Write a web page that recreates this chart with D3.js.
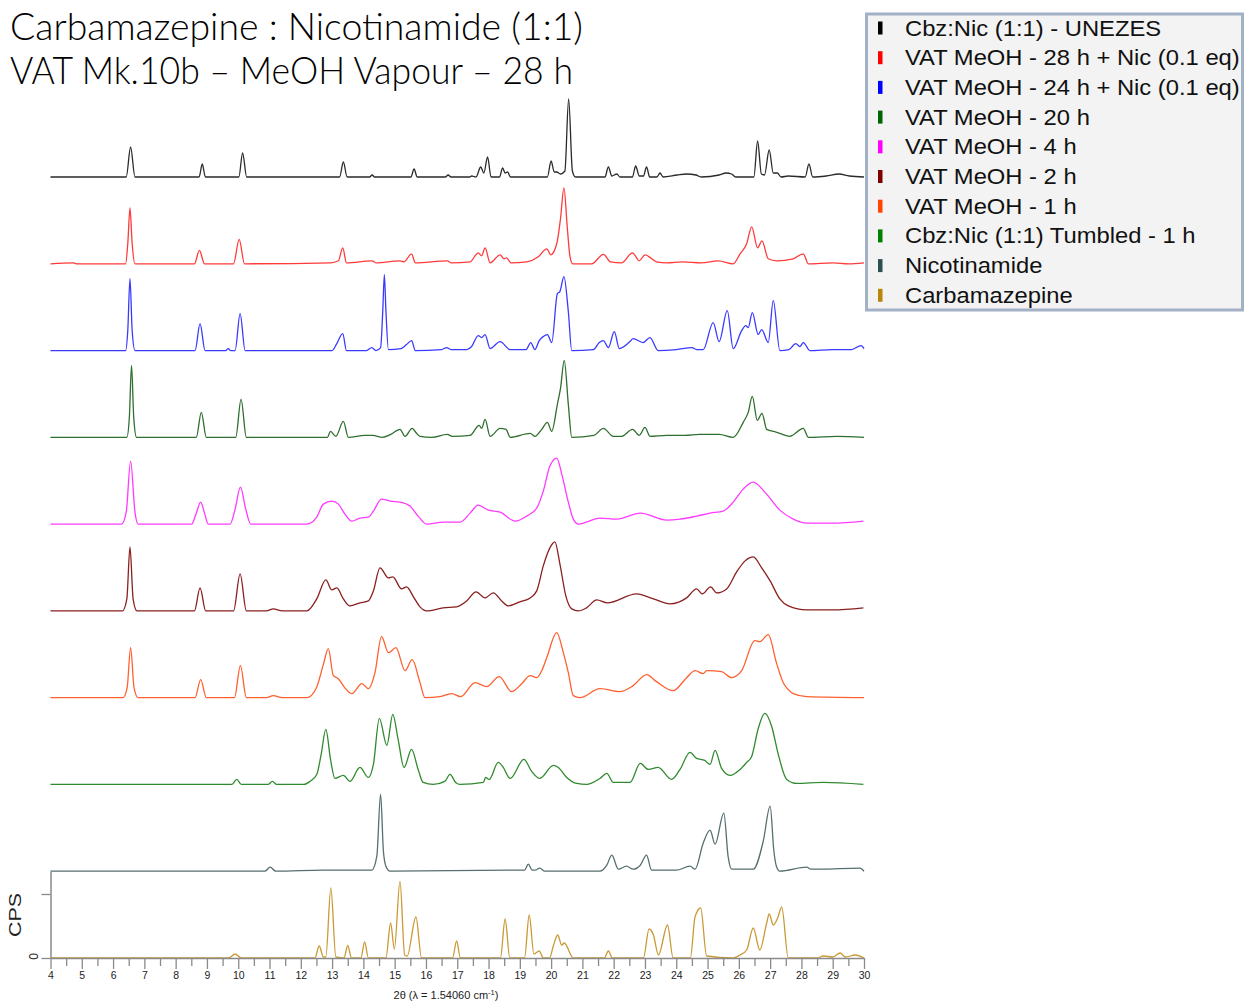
<!DOCTYPE html>
<html>
<head>
<meta charset="utf-8">
<script src="https://cdn.jsdelivr.net/npm/d3@7"></script>
<style>
  body { margin: 0; background: #ffffff; }
  svg { display: block; }
</style>
</head>
<body>
<svg id="chart" width="1244" height="1002"></svg>
<script>
// ---- Titles ----
const titleLines = ["Carbamazepine : Nicotinamide (1:1)", "VAT Mk.10b \u2013 MeOH Vapour \u2013 28 h"];

// ---- Series names (top to bottom) ----
const seriesNames = [
  "Cbz:Nic (1:1) - UNEZES",
  "VAT MeOH - 28 h + Nic (0.1 eq)",
  "VAT MeOH - 24 h + Nic (0.1 eq)",
  "VAT MeOH - 20 h",
  "VAT MeOH - 4 h",
  "VAT MeOH - 2 h",
  "VAT MeOH - 1 h",
  "Cbz:Nic (1:1) Tumbled - 1 h",
  "Nicotinamide",
  "Carbamazepine"
];

// ---- Diffractograms: [2theta (deg), intensity (a.u.)] ----
const unezes = [[4,0],[6.42,0],[6.56,30],[6.70,0],[8.75,0],[8.85,13],[8.95,0],[10.02,0],[10.14,24],[10.27,0],[13.24,0],[13.36,15],[13.48,0],[14.2,0],[14.28,2],[14.36,0],[15.52,0],[15.62,8],[15.72,0],[16.62,0],[16.71,2],[16.8,0],[17.4,0],[17.46,1],[17.6,0],[17.75,10],[17.85,4],[17.97,20],[18.08,0],[18.35,0],[18.45,9],[18.53,4],[18.61,5],[18.7,0],[19.88,0],[20.0,16],[20.1,5],[20.18,5],[20.3,3],[20.44,6],[20.56,78],[20.68,6],[20.78,0],[21.72,0],[21.83,10],[21.94,1],[22.1,3],[22.2,0],[22.6,0],[22.7,11],[22.82,1],[22.95,1],[23.05,10],[23.15,0],[23.38,0],[23.48,4],[23.58,0],[24.03,2],[24.33,3],[24.63,2],[24.8,0],[25.37,2],[25.59,4],[25.77,3],[25.9,0],[26.48,0],[26.6,36],[26.72,3],[26.82,2],[26.97,27],[27.1,4],[27.23,4],[27.35,0],[27.58,1],[28.12,0],[28.24,13],[28.36,0],[28.79,1],[29.2,3],[29.53,1],[30,0]];

const vat28 = [[4,0],[4.73,1],[4.85,0],[6.4,0],[6.47,20],[6.54,56],[6.61,20],[6.7,0],[8.6,0],[8.76,13.5],[8.92,0],[9.85,0],[10.03,24.5],[10.2,0],[12.95,1],[13.2,3],[13.34,16],[13.46,1],[14.28,3],[14.4,1],[15.17,3],[15.3,2],[15.54,10],[15.66,1],[16.68,3],[16.8,1],[17.41,2],[17.67,11],[17.78,8],[17.89,16],[18.05,1],[18.37,9],[18.5,5],[18.58,6],[18.71,1],[19.22,2],[19.59,7],[19.86,15],[19.99,9],[20.18,20],[20.3,45],[20.41,76],[20.52,35],[20.6,8],[20.69,0],[21.3,0],[21.67,9.5],[21.9,2],[22.25,1],[22.6,11],[22.82,3],[23.0,9],[23.37,2],[23.7,1],[24.2,2],[24.8,1],[25.34,3],[25.82,0],[26.04,10],[26.25,20],[26.41,37],[26.6,16],[26.74,23],[26.94,5],[27.2,3],[27.74,5],[28.06,10],[28.22,0],[29,1],[29.5,0],[30,1]];

const vat24 = [[4,0],[6.4,0],[6.47,20],[6.54,72],[6.61,20],[6.7,0],[8.62,0],[8.78,27],[8.94,0],[9.6,0],[9.68,2],[9.76,0],[9.9,0],[10.06,37],[10.22,0],[13.0,0],[13.15,7],[13.34,17],[13.46,0],[14.1,0],[14.27,3],[14.4,0],[14.55,3],[14.62,40],[14.67,76],[14.72,40],[14.8,1],[15.2,2],[15.38,6],[15.54,10],[15.66,0],[16.5,1],[16.66,3],[16.8,1],[17.3,1],[17.46,4],[17.67,15],[17.78,13],[17.89,16],[18.05,2],[18.37,9],[18.69,1],[18.9,1],[19.2,1],[19.35,8],[19.48,1],[19.62,10],[19.75,14],[19.88,16],[20.02,8],[20.2,57],[20.28,59],[20.41,74],[20.55,39],[20.66,0],[21.35,1],[21.54,8],[21.67,10],[21.83,3],[22.02,19],[22.18,2],[22.52,9],[22.62,12],[22.94,8],[23.16,13],[23.42,0],[24.0,1],[24.5,3],[24.65,1],[24.86,1],[25.18,28],[25.37,9],[25.63,40],[25.82,2],[26.09,20],[26.22,25],[26.3,23],[26.43,38],[26.62,16],[26.73,21],[26.94,8],[27.1,50],[27.31,0],[27.6,1],[27.82,7],[27.95,4],[28.06,8],[28.27,0],[29.0,1],[29.6,1],[29.91,5],[30,2]];

const vat20 = [[4,0],[6.44,0],[6.52,20],[6.59,72],[6.66,20],[6.75,0],[8.66,0],[8.82,25],[8.98,0],[9.92,0],[10.09,38],[10.26,0],[12.85,0],[12.95,6],[13.12,1],[13.36,16],[13.52,0],[14.05,2],[14.3,2],[14.6,0],[14.88,3],[15.17,8],[15.33,1],[15.56,9],[15.7,4],[15.81,1],[16.2,0],[16.68,3],[16.85,1],[17.41,2],[17.7,12],[17.78,9],[17.89,18],[18.05,1],[18.37,9],[18.56,8],[18.69,0],[19.33,4],[19.48,1],[19.7,8],[19.88,15],[20.02,6],[20.2,33],[20.3,49],[20.42,77],[20.55,33],[20.66,0],[21.37,2],[21.67,9],[21.99,1],[22.26,1],[22.6,8],[22.82,2],[23.0,10],[23.16,1],[23.7,2],[24.28,2],[24.74,3],[25.37,3],[25.82,0],[26.14,15],[26.3,25],[26.43,41],[26.59,17],[26.74,24],[26.89,8],[27.1,6],[27.31,4],[27.63,1],[28.06,9],[28.22,0],[29.13,1],[30,0]];

const vat4 = [[4,0],[6.27,0],[6.42,12],[6.56,63],[6.7,12],[6.8,0],[8.51,0],[8.65,10],[8.8,22],[8.93,10],[9.04,0],[9.74,0],[9.9,15],[10.07,37],[10.24,15],[10.4,0],[12.19,0],[12.51,7],[12.72,20],[12.99,23],[13.2,20],[13.41,10],[13.63,3],[13.89,6],[14.16,7],[14.32,13],[14.58,25],[14.85,23],[15.17,22],[15.49,18],[15.75,8],[16.02,0],[16.55,2],[17.09,2],[17.41,11],[17.67,19],[17.99,14],[18.37,12],[18.85,3],[19.22,8],[19.54,16],[19.75,33],[19.96,58],[20.18,66],[20.34,50],[20.55,22],[20.71,5],[20.87,0],[21.56,6],[22.1,5],[22.85,11],[23.7,4],[24.12,5],[24.65,8],[25.08,11],[25.5,13],[25.82,22],[26.14,35],[26.46,42],[26.83,32],[27.31,14],[27.74,5],[28.17,1],[29.0,1],[29.98,3]];

const vat2 = [[4,0],[6.3,0],[6.44,12],[6.54,64],[6.64,12],[6.76,0],[8.6,0],[8.78,23],[8.96,0],[9.85,0],[10.06,37],[10.26,0],[10.9,0],[11.12,2],[11.4,0],[12.19,0],[12.51,12],[12.8,31],[12.99,21],[13.15,23],[13.36,12],[13.57,5],[13.89,8],[14.16,10],[14.32,20],[14.53,43],[14.8,33],[14.94,34],[15.22,22],[15.38,24],[15.6,14],[15.81,4],[16.02,0],[16.55,3],[16.98,4],[17.3,10],[17.6,19],[17.89,13],[18.15,18],[18.42,10],[18.63,5],[19.0,9],[19.33,13],[19.54,20],[19.75,45],[19.96,63],[20.12,69],[20.28,47],[20.47,15],[20.66,2],[20.87,0],[21.13,3],[21.46,11],[21.8,8],[22.73,17],[23.27,12],[23.8,7],[24.33,13],[24.65,22],[24.83,17],[25.1,24],[25.29,18],[25.61,22],[25.93,39],[26.2,50],[26.46,54],[26.73,43],[27.0,30],[27.31,12],[27.58,5],[28.17,1],[29.0,1],[29.98,3]];

const vat1 = [[4,0],[6.32,0],[6.45,10],[6.56,50],[6.67,10],[6.8,0],[8.62,0],[8.8,18],[8.98,0],[9.88,0],[10.07,32],[10.26,0],[10.9,0],[11.12,2],[11.4,0],[12.19,0],[12.5,10],[12.72,33],[12.88,49],[13.04,22],[13.2,19],[13.4,10],[13.63,4],[13.95,14],[14.16,9],[14.37,25],[14.58,61],[14.8,45],[15.04,50],[15.33,27],[15.56,38],[15.81,15],[15.97,0],[16.45,1],[16.82,4],[17.11,1],[17.57,15],[17.94,11],[18.34,21],[18.74,6],[19.06,14],[19.33,22],[19.54,20],[19.7,27],[19.86,40],[20.18,65],[20.39,45],[20.55,25],[20.71,2],[20.92,0],[21.56,9],[22.2,6],[22.62,12],[23.05,23],[23.37,16],[23.9,7],[24.33,20],[24.6,27],[24.86,24],[24.97,27],[25.45,26],[25.77,20],[26.09,27],[26.51,57],[26.67,56],[26.94,63],[27.2,35],[27.42,15],[27.58,8],[27.74,4],[28.17,1],[30,0]];

const tumbled = [[4,0],[9.8,0],[9.95,5],[10.1,0],[10.95,0],[11.09,3],[11.23,0],[12.1,0],[12.29,3],[12.51,10],[12.65,30],[12.8,55],[12.95,25],[13.09,6],[13.36,9],[13.57,3],[13.89,17],[14.16,7],[14.32,20],[14.51,66],[14.75,39],[14.94,70],[15.11,45],[15.3,17],[15.54,35],[15.75,15],[15.91,2],[16.23,0],[16.6,3],[16.77,10],[16.95,2],[17.09,0],[17.83,2],[17.91,7],[18.02,5],[18.31,22],[18.47,17],[18.69,6],[19.13,25],[19.38,13],[19.64,6],[20.07,19],[20.23,17],[20.5,7],[20.82,1],[21.13,0],[21.56,6],[21.78,11],[21.99,2],[22.52,2],[22.85,21],[23.11,15],[23.42,17],[23.85,5],[24.12,15],[24.44,32],[24.65,26],[24.91,24],[25.08,20],[25.24,34],[25.45,16],[25.72,9],[26.04,15],[26.25,22],[26.41,28],[26.62,56],[26.83,71],[27.05,58],[27.26,30],[27.53,5],[27.85,1],[28.7,2],[29.98,0]];

const nicotinamide = [[4,0],[10.85,0],[11.02,4],[11.2,0],[12.72,1],[14.27,1],[14.43,15],[14.55,77],[14.64,20],[14.72,5],[14.85,0],[18.74,1],[19.15,1],[19.27,7],[19.4,1],[19.48,1],[19.64,3],[19.8,0],[21.56,0],[21.78,6],[21.94,16],[22.15,2],[22.41,5],[22.62,2],[22.85,6],[23.05,16],[23.21,1],[24.0,1],[24.44,5],[24.6,2],[24.86,28],[25.08,41],[25.24,27],[25.52,58],[25.66,14],[25.77,2],[26.46,2],[26.78,30],[27.0,65],[27.12,20],[27.2,5],[27.31,0],[28.17,4],[28.3,2],[28.59,2],[29.87,3],[30,0]];

const carbamazepine = [[4,0],[9.7,0],[9.9,4],[10.1,0],[12.45,0],[12.59,12],[12.72,1],[12.8,1],[12.96,70],[13.12,1],[13.38,0],[13.5,12.5],[13.62,0],[13.92,0],[14.04,16],[14.16,0],[14.72,0],[14.87,35],[14.99,9],[15.17,76.5],[15.32,3],[15.4,2],[15.68,41],[15.86,0],[16.85,0],[16.98,17],[17.1,0],[18.38,0],[18.53,39],[18.68,0],[19.15,0],[19.3,43],[19.45,4],[19.62,7],[19.75,0],[19.95,0],[20.07,12],[20.21,23],[20.34,13],[20.42,15],[20.71,0],[21.7,0],[21.83,7],[21.96,0],[22.95,0],[23.13,29],[23.27,23],[23.43,3],[23.72,33],[23.9,0],[24.45,0],[24.6,41],[24.78,50],[24.97,2],[25.8,0],[26.04,3],[26.25,8],[26.46,30],[26.67,8],[26.89,35],[26.97,44],[27.1,33],[27.24,40],[27.37,51],[27.58,0],[28.5,0],[28.7,2],[29.0,1],[29.24,5],[29.4,1],[29.72,3],[30,0]];

const seriesData = [unezes, vat28, vat24, vat20, vat4, vat2, vat1, tumbled, nicotinamide, carbamazepine];

// ---- Colours: trace line and legend swatch ----
const lineColors = ["#2a2a2a", "#ff3a3a", "#3a3aff", "#2f6f2f", "#ff3aff", "#8a1f1f", "#ff6030", "#2f8a2f", "#566f6f", "#c99a35"];
const swatchColors = ["#000000", "#ff0000", "#0000ff", "#006400", "#ff00ff", "#800000", "#ff4500", "#008000", "#2f4f4f", "#b8860b"];

// ---- Axis ticks ----
const xTickValues = d3.range(4, 30.01, 0.5);
const cpsTickValues = [0, 64];

// ---- Layout ----
const svg = d3.select("#chart");
const x = d3.scaleLinear().domain([4, 30]).range([50.5, 864]);
const offset = d3.scaleLinear().domain([0, seriesData.length - 1]).range([177, 958]);
const inten = d3.scaleLinear().domain([0, 100]).range([0, 100]);

// Titles
const titleG = svg.append("g")
  .attr("font-family", "Lato, 'Open Sans', sans-serif")
  .attr("font-weight", 300)
  .attr("font-size", 37)
  .attr("fill", "#000");
titleG.selectAll("text").data(titleLines).join("text")
  .attr("x", 10)
  .attr("y", (d, i) => 39.5 + i * 44.5)
  .attr("textLength", (d, i) => i === 0 ? 573 : 563)
  .attr("lengthAdjust", "spacingAndGlyphs")
  .text(d => d);

// Traces, stacked with a constant offset
const traceG = svg.append("g").attr("fill", "none").attr("stroke-width", 1.3).attr("stroke-linejoin", "round");
seriesData.forEach((data, i) => {
  const line = d3.line()
    .x(d => x(d[0]))
    .y(d => offset(i) - inten(d[1]))
    .curve(d3.curveMonotoneX);
  traceG.append("path")
    .attr("d", line(data))
    .attr("stroke", lineColors[i]);
});

// Bottom 2theta axis
const axisColor = "#8a8a8a";
const xAxis = d3.axisBottom(x)
  .tickValues(xTickValues)
  .tickSizeOuter(0)
  .tickFormat(d => Number.isInteger(d) ? d : "");
const xg = svg.append("g")
  .attr("transform", `translate(0,${offset(seriesData.length - 1)})`)
  .call(xAxis);
xg.select(".domain").attr("stroke", axisColor).attr("stroke-width", 1.5);
xg.selectAll(".tick line")
  .attr("stroke", axisColor)
  .attr("stroke-width", 1.3)
  .attr("y2", d => Number.isInteger(d) ? 11 : 8);
xg.selectAll(".tick text")
  .attr("y", 14)
  .attr("font-family", "'Liberation Sans', Arial, sans-serif")
  .attr("font-size", 10.5)
  .attr("fill", "#222");

svg.append("text")
  .attr("x", 446)
  .attr("y", 999)
  .attr("text-anchor", "middle")
  .attr("font-family", "'Liberation Sans', Arial, sans-serif")
  .attr("font-size", 11)
  .attr("fill", "#222")
  .call(t => {
    t.append("tspan").text("2\u03b8 (\u03bb = 1.54060 cm");
    t.append("tspan").attr("dy", -4).attr("font-size", 7.5).text("-1");
    t.append("tspan").attr("dy", 4).text(")");
  });

// CPS axis of the bottom pattern
const cps = d3.scaleLinear()
  .domain([0, offset(seriesData.length - 1) - offset(seriesData.length - 2)])
  .range([offset(seriesData.length - 1), offset(seriesData.length - 2)]);
const yAxis = d3.axisLeft(cps)
  .tickValues(cpsTickValues)
  .tickSize(9)
  .tickSizeOuter(0)
  .tickFormat(d => d === 0 ? "0" : "");
const yg = svg.append("g").attr("transform", "translate(50.5,0)").call(yAxis);
yg.select(".domain").attr("stroke", axisColor).attr("stroke-width", 1.5);
yg.selectAll(".tick line").attr("stroke", axisColor).attr("stroke-width", 1.3);
yg.selectAll(".tick text")
  .attr("font-family", "'Liberation Sans', Arial, sans-serif")
  .attr("font-size", 12)
  .attr("fill", "#222")
  .attr("x", null).attr("dy", null)
  .attr("text-anchor", "middle")
  .attr("transform", "translate(-13,-2) rotate(-90)");

svg.append("text")
  .attr("transform", "translate(21,915) rotate(-90)")
  .attr("text-anchor", "middle")
  .attr("font-family", "'Liberation Sans', Arial, sans-serif")
  .attr("font-size", 16)
  .attr("textLength", 44)
  .attr("lengthAdjust", "spacingAndGlyphs")
  .attr("fill", "#222")
  .text("CPS");

// Legend
const legend = svg.append("g");
legend.append("rect")
  .attr("x", 866.5).attr("y", 14)
  .attr("width", 376).attr("height", 296)
  .attr("fill", "#f3f3f3")
  .attr("stroke", "#a3b1c6")
  .attr("stroke-width", 3);
const rows = legend.selectAll("g.row").data(seriesNames).join("g")
  .attr("class", "row")
  .attr("transform", (d, i) => `translate(0,${28 + i * 29.7})`);
rows.append("rect")
  .attr("x", 878).attr("y", -6.5)
  .attr("width", 4.5).attr("height", 13)
  .attr("fill", (d, i) => swatchColors[i]);
rows.append("text")
  .attr("x", 905).attr("y", 7.5)
  .attr("font-family", "'Liberation Sans', Arial, sans-serif")
  .attr("font-size", 22)
  .attr("fill", "#111")
  .text(d => d)
  .each(function () {
    // the legend face runs slightly wide
    const w = this.getComputedTextLength();
    d3.select(this).attr("textLength", w * 1.08).attr("lengthAdjust", "spacingAndGlyphs");
  });
</script>
</body>
</html>
